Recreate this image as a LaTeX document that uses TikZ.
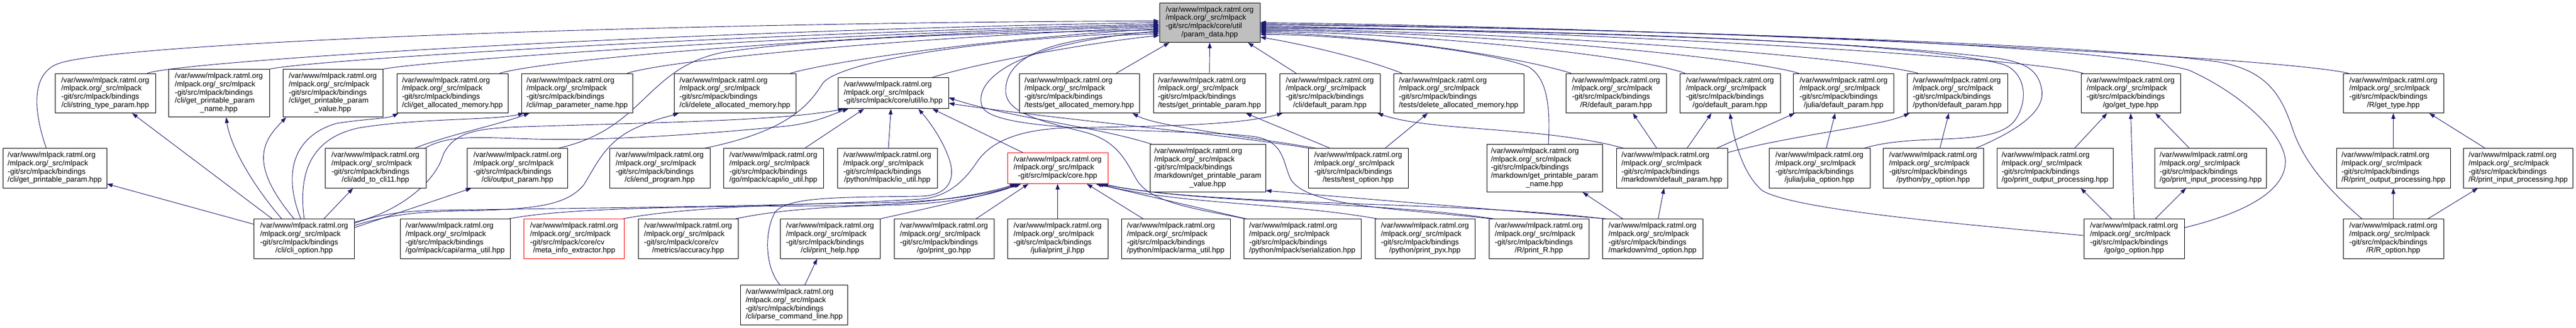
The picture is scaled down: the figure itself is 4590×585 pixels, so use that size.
\documentclass[tikz,border=0pt]{standalone}
\usepackage{fontspec}
\setmainfont{Liberation Sans}
\usetikzlibrary{arrows.meta,backgrounds}
\definecolor{edgec}{HTML}{191970}
\definecolor{pfill}{HTML}{BFBFBF}
\newcommand{\mylbl}[2]{\begin{tabular}{@{}l@{}}#1\\\multicolumn{1}{@{}c@{}}{#2}\end{tabular}}
\newcommand{\Lone}{/var/www/mlpack.ratml.org}
\newcommand{\Ltwo}{/mlpack.org/\_src/mlpack}
\newcommand{\Lb}{-git/src/mlpack/bindings}
\newcommand{\stdl}[1]{\mylbl{\Lone\\\Ltwo\\\Lb}{#1}}
\newcommand{\fivel}[2]{\mylbl{\Lone\\\Ltwo\\\Lb\\#1}{#2}}
\tikzset{
  box/.style={draw=black, line width=0.9pt, fill=white, inner sep=0pt, font=\fontsize{13.3}{14.7}\selectfont},
  rthree/.style={minimum height=55pt},
  rfour/.style={minimum height=70.5pt},
  rfive/.style={minimum height=85pt},
  redbox/.style={draw=red},
  e/.style={draw=edgec, line width=0.9pt, -{Triangle[length=10pt,width=7pt]}}
}
\begin{document}
\begin{tikzpicture}[x=1pt,y=-1pt]
\useasboundingbox (0,0) rectangle (4590,585);
% Row 0
\node[box,rfour,minimum width=179pt,fill=pfill] (P) at (2155.5,40.3) {\mylbl{\Lone\\\Ltwo\\-git/src/mlpack/core/util}{/param\_data.hpp}};
% Row 1
\node[box,rfour,minimum width=179pt] (stp) at (187.5,166.3) {\stdl{/cli/string\_type\_param.hpp}};
\node[box,rfive,minimum width=180pt] (cgppn) at (390,166.3) {\fivel{/cli/get\_printable\_param}{\_name.hpp}};
\node[box,rfive,minimum width=178pt] (cgppv) at (593,166.3) {\fivel{/cli/get\_printable\_param}{\_value.hpp}};
\node[box,rfour,minimum width=198pt] (cga) at (806,166.3) {\stdl{/cli/get\_allocated\_memory.hpp}};
\node[box,rfour,minimum width=197.5pt] (cmap) at (1028.3,166.3) {\stdl{/cli/map\_parameter\_name.hpp}};
\node[box,rfour,minimum width=217pt] (cdel) at (1309.5,166.3) {\stdl{/cli/delete\_allocated\_memory.hpp}};
\node[box,rthree,minimum width=197pt] (io) at (1591.5,166.3) {\mylbl{\Lone\\\Ltwo}{-git/src/mlpack/core/util/io.hpp}};
\node[box,rfour,minimum width=214pt] (tga) at (1923,166.3) {\stdl{/tests/get\_allocated\_memory.hpp}};
\node[box,rfour,minimum width=200pt] (tgpp) at (2155,166.3) {\stdl{/tests/get\_printable\_param.hpp}};
\node[box,rfour,minimum width=179pt] (cdef) at (2369.5,166.3) {\stdl{/cli/default\_param.hpp}};
\node[box,rfour,minimum width=232pt] (tdel) at (2599,166.3) {\stdl{/tests/delete\_allocated\_memory.hpp}};
\node[box,rfour,minimum width=179pt] (Rdef) at (2879.5,166.3) {\stdl{/R/default\_param.hpp}};
\node[box,rfour,minimum width=179pt] (godef) at (3082.5,166.3) {\stdl{/go/default\_param.hpp}};
\node[box,rfour,minimum width=178.5pt] (jdef) at (3285,166.3) {\stdl{/julia/default\_param.hpp}};
\node[box,rfour,minimum width=179pt] (pydef) at (3487.5,166.3) {\stdl{/python/default\_param.hpp}};
\node[box,rfour,minimum width=177pt] (gotype) at (3796.5,166.3) {\stdl{/go/get\_type.hpp}};
\node[box,rfour,minimum width=179pt] (Rtype) at (4264.5,166.3) {\stdl{/R/get\_type.hpp}};
% Row 2
\node[box,rfour,minimum width=185pt] (cgpp) at (97.5,300) {\stdl{/cli/get\_printable\_param.hpp}};
\node[box,rfour,minimum width=180pt] (add) at (669,300) {\stdl{/cli/add\_to\_cli11.hpp}};
\node[box,rfour,minimum width=178.5pt] (outp) at (922,300) {\stdl{/cli/output\_param.hpp}};
\node[box,rfour,minimum width=179pt] (endp) at (1175.5,300) {\stdl{/cli/end\_program.hpp}};
\node[box,rfour,minimum width=178pt] (goio) at (1378,300) {\stdl{/go/mlpack/capi/io\_util.hpp}};
\node[box,rfour,minimum width=178pt] (pyio) at (1581,300) {\stdl{/python/mlpack/io\_util.hpp}};
\node[box,rthree,redbox,minimum width=179pt] (core) at (1884.5,300) {\mylbl{\Lone\\\Ltwo}{-git/src/mlpack/core.hpp}};
\node[box,rfive,minimum width=206pt] (mdgppv) at (2152,300) {\fivel{/markdown/get\_printable\_param}{\_value.hpp}};
\node[box,rfour,minimum width=178pt] (topt) at (2420,300) {\stdl{/tests/test\_option.hpp}};
\node[box,rfive,minimum width=206pt] (mdgppn) at (2752,300) {\fivel{/markdown/get\_printable\_param}{\_name.hpp}};
\node[box,rfour,minimum width=198pt] (mddef) at (2979,300) {\stdl{/markdown/default\_param.hpp}};
\node[box,rfour,minimum width=180pt] (jopt) at (3242,300) {\stdl{/julia/julia\_option.hpp}};
\node[box,rfour,minimum width=179pt] (pyopt) at (3444.5,300) {\stdl{/python/py\_option.hpp}};
\node[box,rfour,minimum width=207pt] (goout) at (3661.5,300) {\stdl{/go/print\_output\_processing.hpp}};
\node[box,rfour,minimum width=199pt] (goin) at (3939,300) {\stdl{/go/print\_input\_processing.hpp}};
\node[box,rfour,minimum width=203pt] (Rout) at (4264.5,300) {\stdl{/R/print\_output\_processing.hpp}};
\node[box,rfour,minimum width=194.5pt] (Rin) at (4487,300) {\stdl{/R/print\_input\_processing.hpp}};
% Row 3
\node[box,rfour,minimum width=178.5pt] (clio) at (542,426) {\stdl{/cli/cli\_option.hpp}};
\node[box,rfour,minimum width=196pt] (goarma) at (811,426) {\stdl{/go/mlpack/capi/arma\_util.hpp}};
\node[box,rfour,redbox,minimum width=179pt] (meta) at (1023,426) {\mylbl{\Lone\\\Ltwo\\-git/src/mlpack/core/cv}{/meta\_info\_extractor.hpp}};
\node[box,rfour,minimum width=178pt] (acc) at (1226,426) {\mylbl{\Lone\\\Ltwo\\-git/src/mlpack/core/cv}{/metrics/accuracy.hpp}};
\node[box,rfour,minimum width=178pt] (phelp) at (1479,426) {\stdl{/cli/print\_help.hpp}};
\node[box,rfour,minimum width=178pt] (pgo) at (1682,426) {\stdl{/go/print\_go.hpp}};
\node[box,rfour,minimum width=179pt] (pjl) at (1884.5,426) {\stdl{/julia/print\_jl.hpp}};
\node[box,rfour,minimum width=194pt] (pyarma) at (2095,426) {\stdl{/python/mlpack/arma\_util.hpp}};
\node[box,rfour,minimum width=209pt] (ser) at (2320.5,426) {\stdl{/python/mlpack/serialization.hpp}};
\node[box,rfour,minimum width=178pt] (ppyx) at (2539,426) {\stdl{/python/print\_pyx.hpp}};
\node[box,rfour,minimum width=178pt] (pR) at (2742,426) {\stdl{/R/print\_R.hpp}};
\node[box,rfour,minimum width=179pt] (mdopt) at (2944.5,426) {\stdl{/markdown/md\_option.hpp}};
\node[box,rfour,minimum width=179pt] (goopt) at (3802.5,426) {\stdl{/go/go\_option.hpp}};
\node[box,rfour,minimum width=179pt] (Ropt) at (4264.5,426) {\stdl{/R/R\_option.hpp}};
% Row 4
\node[box,rfour,minimum width=190.6pt] (pcl) at (1415,544) {\stdl{/cli/parse\_command\_line.hpp}};

\begin{pgfonlayer}{background}
\fill[white] (0,0) rectangle (4590,585);
% ---- to param_data, from the left
\draw[e] ([xshift=-15pt]cgpp.north) .. controls (60,200) and (55,135) .. (100,115) .. controls (190,75) and (1200,40) .. ([yshift=3pt]P.west);
\draw[e] ([xshift=75pt]stp.north) .. controls (330,108) and (1200,55) .. ([yshift=0pt]P.west);
\draw[e] (cgppn.north east) .. controls (540,108) and (1300,60) .. ([yshift=-3pt]P.west);
\draw[e] (cgppv.north east) .. controls (740,110) and (1400,62) .. ([yshift=-5pt]P.west);
\draw[e] ([xshift=-15pt]cga.north east) .. controls (980,105) and (1500,62) .. ([yshift=-7pt]P.west);
\draw[e] ([xshift=-10pt]cmap.north east) .. controls (1200,105) and (1650,65) .. ([yshift=-9pt]P.west);
\draw[e] ([xshift=-10pt]cdel.north east) .. controls (1480,110) and (1750,70) .. ([yshift=-11pt]P.west);
\draw[e] ([xshift=-17pt]outp.north east) .. controls (1150,230) and (1150,120) .. (1290,93) .. controls (1500,62) and (1850,58) .. ([yshift=-13pt]P.west);
\draw[e] ([xshift=-84pt]pR.north) .. controls (2500,372) and (2330,370) .. (2300,320) .. controls (2285,290) and (2290,250) .. (2230,243) .. controls (2100,228) and (1770,240) .. (1750,190) .. controls (1735,150) and (1790,80) .. ([yshift=-15pt]P.west);
\draw[e] ([xshift=-10pt]endp.north east) .. controls (1400,235) and (1440,190) .. (1465,150) .. controls (1490,110) and (1750,68) .. ([yshift=-17pt]P.west);
\draw[e] ([xshift=3pt]ser.north west) .. controls (2150,375) and (2050,365) .. (2025,320) .. controls (2005,285) and (1990,250) .. (1930,235) .. controls (1850,215) and (1790,200) .. (1792,160) .. controls (1793,110) and (1850,65) .. ([yshift=-20pt]P.west);
\draw[e] ([xshift=-30pt]io.north east) .. controls (1750,110) and (1950,75) .. ([yshift=-23pt]P.west);
% ---- to param_data, from below
\draw[e] ([xshift=66pt]tga.north) -- ([xshift=-72pt]P.south);
\draw[e] (tgpp.north) -- (P.south);
\draw[e] ([xshift=-60pt]cdef.north) -- ([xshift=68pt]P.south);
% ---- to param_data, from the right
\draw[e] ([xshift=-101pt]tdel.north) .. controls (2420,100) and (2300,75) .. ([yshift=-26pt]P.east);
\draw[e] ([xshift=7pt]mdgppn.north) .. controls (2762,200) and (2760,140) .. (2723,119) .. controls (2650,90) and (2400,62) .. ([yshift=-21pt]P.east);
\draw[e] ([xshift=-80pt]Rdef.north) .. controls (2700,100) and (2450,62) .. ([yshift=-18pt]P.east);
\draw[e] ([xshift=-80pt]godef.north) .. controls (2900,95) and (2500,58) .. ([yshift=-16pt]P.east);
\draw[e] ([xshift=-80pt]jdef.north) .. controls (3100,100) and (2600,55) .. ([yshift=-14pt]P.east);
\draw[e] ([xshift=-70pt]pydef.north) .. controls (3300,100) and (2700,55) .. ([yshift=-12pt]P.east);
\draw[e] ([xshift=-11pt]jopt.north east) .. controls (3420,235) and (3550,265) .. (3590,215) .. controls (3615,180) and (3610,130) .. (3570,115) .. controls (3400,70) and (2700,52) .. ([yshift=-10pt]P.east);
\draw[e] ([xshift=-14pt]pyopt.north east) .. controls (3590,235) and (3645,200) .. (3638,160) .. controls (3632,125) and (3610,112) .. (3560,104) .. controls (3300,70) and (2700,54) .. ([yshift=-8pt]P.east);
\draw[e] ([xshift=-85pt]gotype.north) .. controls (3600,100) and (2800,55) .. ([yshift=-6pt]P.east);
\draw[e] ([yshift=20pt]goopt.east) .. controls (4000,380) and (4075,340) .. (4072,285) .. controls (4068,240) and (4000,170) .. (3900,125) .. controls (3700,70) and (2800,50) .. ([yshift=-4pt]P.east);
\draw[e] ([xshift=-80pt]Rtype.north) .. controls (4050,100) and (3000,50) .. ([yshift=0pt]P.east);
\draw[e] ([xshift=-56pt]Ropt.north) .. controls (4150,340) and (4105,290) .. (4085,230) .. controls (4065,170) and (4040,125) .. (3950,110) .. controls (3700,75) and (2800,50) .. ([yshift=-2pt]P.east);
% ---- cli_option
\draw[e] ([yshift=26pt]clio.west) -- ([yshift=-28pt]cgpp.east);
\draw[e] ([xshift=-57pt]clio.north) -- ([xshift=48pt]stp.south);
\draw[e] ([xshift=-40pt]clio.north) .. controls (450,330) and (410,260) .. ([xshift=13pt]cgppn.south);
\draw[e] ([xshift=-18pt]clio.north) .. controls (440,290) and (470,250) .. ([xshift=-83pt]cgppv.south);
\draw[e] ([xshift=-6pt]clio.north) .. controls (500,300) and (530,240) .. (600,220) .. controls (650,212) and (690,212) .. ([xshift=-96pt]cga.south);
\draw[e] (clio.north) .. controls (530,300) and (560,245) .. (640,228) .. controls (750,210) and (880,215) .. ([xshift=-95pt]cmap.south);
\draw[e] ([xshift=35pt]clio.north) -- ([xshift=-40pt]add.south);
\draw[e] ([yshift=20pt]clio.east) -- ([xshift=-82pt]outp.south);
\draw[e] ([yshift=24pt]clio.east) .. controls (680,388) and (720,378) .. (820,376) .. controls (960,374) and (1010,365) .. (1040,330) .. controls (1065,290) and (1080,250) .. (1140,225) .. controls (1170,212) and (1190,208) .. ([xshift=-100pt]cdel.south);
\draw[e] ([yshift=30pt]clio.east) .. controls (700,382) and (775,330) .. (790,275) .. controls (815,225) and (870,228) .. (1000,224) .. controls (1200,218) and (1400,214) .. ([xshift=-88pt]io.south);
\draw[e] ([yshift=28pt]clio.east) .. controls (670,385) and (700,377) .. (780,375) .. controls (1100,370) and (1450,368) .. (1640,355) .. controls (1690,352) and (1720,320) .. (1740,290) .. controls (1760,260) and (1800,232) .. (1900,228) .. controls (2050,225) and (2200,225) .. ([xshift=-84pt]cdef.south);
% ---- add_to_cli11
\draw[e] ([xshift=70pt]add.north) .. controls (800,240) and (880,225) .. ([xshift=-85pt]cmap.south);
\draw[e] ([xshift=88pt]add.north) .. controls (800,240) and (850,245) .. (950,248) .. controls (1100,252) and (1300,235) .. (1400,225) .. controls (1450,220) and (1480,205) .. ([xshift=-80pt]io.south);
% ---- io.hpp
\draw[e] ([xshift=56pt]goio.north) -- ([xshift=-52pt]io.south);
\draw[e] ([xshift=2pt]pyio.north) -- ([xshift=-4pt]io.south);
\draw[e] ([xshift=-62pt]core.north) -- ([xshift=70pt]io.south);
\draw[e] ([xshift=-25pt]pcl.north) .. controls (1365,480) and (1360,420) .. (1380,380) .. controls (1400,350) and (1500,352) .. (1640,350) .. controls (1690,349) and (1705,320) .. (1690,280) .. controls (1675,240) and (1650,210) .. ([xshift=45pt]io.south);
\draw[e] ([xshift=19pt]pcl.north) -- ([xshift=-23pt]phelp.south);
\draw[e] ([xshift=-87pt]topt.north) .. controls (2150,235) and (1900,215) .. ([yshift=-18pt]io.east);
\draw[e] ([xshift=-100pt]mdgppv.north) .. controls (1950,225) and (1800,210) .. ([yshift=-8pt]io.east);
% ---- core.hpp
\draw[e] ([xshift=-3pt]goarma.north east) .. controls (1000,372) and (1200,368) .. (1500,367) .. controls (1650,366) and (1760,345) .. ([xshift=-75pt]core.south);
\draw[e] ([xshift=-3pt]meta.north east) .. controls (1200,372) and (1400,363) .. (1550,362) .. controls (1680,361) and (1770,345) .. ([xshift=-72pt]core.south);
\draw[e] ([xshift=-5pt]acc.north east) .. controls (1380,375) and (1480,368) .. (1580,366) .. controls (1700,364) and (1775,345) .. ([xshift=-68pt]core.south);
\draw[e] (phelp.north east) .. controls (1650,372) and (1760,348) .. ([xshift=-65pt]core.south);
\draw[e] ([xshift=57pt]pgo.north) -- ([xshift=-52pt]core.south);
\draw[e] (pjl.north) -- (core.south);
\draw[e] ([xshift=-58pt]pyarma.north) -- ([xshift=52pt]core.south);
\draw[e] ([xshift=-100pt]ser.north) -- ([xshift=68pt]core.south);
\draw[e] ([xshift=-85pt]ppyx.north) .. controls (2300,362) and (2100,365) .. ([xshift=72pt]core.south);
\draw[e] ([xshift=-80pt]pR.north) .. controls (2450,358) and (2150,365) .. ([xshift=76pt]core.south);
\draw[e] ([xshift=-86pt]mdopt.north) .. controls (2600,358) and (2150,368) .. ([xshift=80pt]core.south);
% ---- tests
\draw[e] ([xshift=-75pt]topt.north) .. controls (2200,240) and (2060,225) .. ([xshift=95pt]tga.south);
\draw[e] ([xshift=-50pt]topt.north) -- ([xshift=65pt]tgpp.south);
\draw[e] ([xshift=48pt]topt.north) -- ([xshift=-55pt]tdel.south);
% ---- markdown
\draw[e] ([xshift=-82pt]mdopt.north) -- ([yshift=-40pt]mdgppv.east);
\draw[e] ([xshift=-53pt]mdopt.north) -- ([xshift=68pt]mdgppn.south);
\draw[e] ([xshift=10pt]mdopt.north) -- ([xshift=-14pt]mddef.south);
\draw[e] ([xshift=-86pt]mddef.north) .. controls (2750,225) and (2550,235) .. ([xshift=85pt]cdef.south);
\draw[e] ([xshift=-27pt]mddef.north) -- ([xshift=30pt]Rdef.south);
\draw[e] ([xshift=27pt]mddef.north) -- ([xshift=-33pt]godef.south);
\draw[e] ([xshift=80pt]mddef.north) -- ([xshift=-87pt]jdef.south);
\draw[e] ([yshift=28pt]mddef.east) .. controls (3200,240) and (3350,225) .. ([xshift=-85pt]pydef.south);
% ---- julia / python / go / R
\draw[e] ([xshift=12pt]jopt.north) -- ([xshift=-15pt]jdef.south);
\draw[e] ([xshift=12pt]pyopt.north) -- ([xshift=-15pt]pydef.south);
\draw[e] ([xshift=35pt]goout.north) -- ([xshift=-42pt]gotype.south);
\draw[e] ([xshift=-38pt]goin.north) -- ([xshift=44pt]gotype.south);
\draw[e] (goopt.north) -- (gotype.south);
\draw[e] ([xshift=-40pt]goopt.north) -- ([xshift=46pt]goout.south);
\draw[e] ([xshift=38pt]goopt.north) -- ([xshift=-44pt]goin.south);
\draw[e] ([yshift=6pt]goopt.west) .. controls (3500,400) and (3200,375) .. (3140,340) .. controls (3105,310) and (3090,250) .. (godef.south);
\draw[e] (Rout.north) -- (Rtype.south);
\draw[e] ([xshift=-59pt]Rin.north) -- ([xshift=64pt]Rtype.south);
\draw[e] (Ropt.north) -- (Rout.south);
\draw[e] ([xshift=61.5pt]Ropt.north) -- ([xshift=-72pt]Rin.south);
\end{pgfonlayer}
\end{tikzpicture}
\end{document}
